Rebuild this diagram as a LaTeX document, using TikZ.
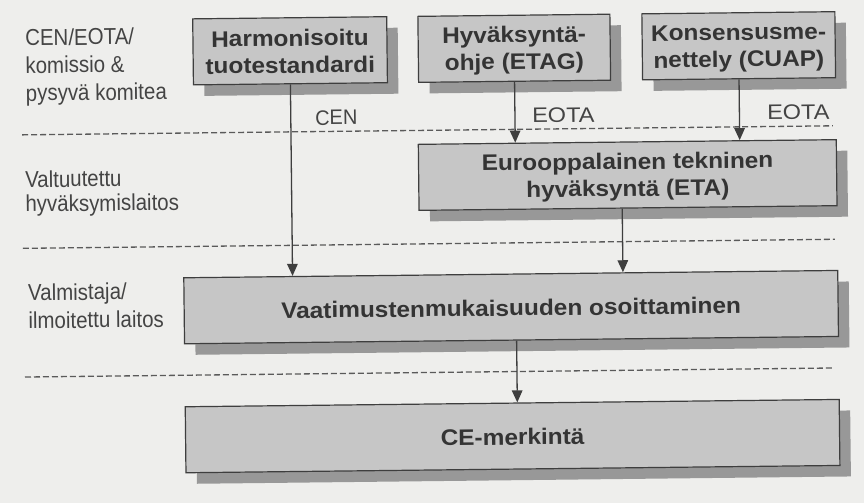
\documentclass[tikz,border=0pt]{standalone}
\usepackage{fontspec}
\usetikzlibrary{arrows.meta,shadows,calc}
\newfontfamily\lblfont[FakeStretch=0.89]{Liberation Sans}
\newfontfamily\cenfont[FakeStretch=0.95]{Liberation Sans}
\newfontfamily\eotafont[FakeStretch=1.12]{Liberation Sans}
\newfontfamily\boxfont[FakeStretch=1.085]{Liberation Sans}
\definecolor{bg}{RGB}{238,238,236}
\definecolor{boxfill}{RGB}{198,198,198}
\definecolor{shadowc}{RGB}{152,152,152}
\definecolor{edge}{RGB}{62,62,62}
\definecolor{txt}{RGB}{52,52,52}
\definecolor{lbl}{RGB}{68,68,68}
\definecolor{dashc}{RGB}{90,90,90}
\newcommand\bxs{\rule[-2.6pt]{0pt}{22.9pt}}
\begin{document}
\begin{tikzpicture}[x=1pt,y=-1pt,
  stepbox/.style={draw=edge, line width=1.2pt, fill=boxfill, inner sep=0pt,
    align=center, text=txt, minimum height=66pt,
    font=\boxfont\bfseries\fontsize{22.5}{27}\selectfont,
    drop shadow={shadow xshift=11pt, shadow yshift=-11pt, opacity=1, fill=shadowc, draw=none}},
  arr/.style={draw=edge, line width=1.3pt, -{Triangle[length=12pt,width=10.5pt]}},
  dashline/.style={draw=dashc, line width=1.3pt, dash pattern=on 6pt off 3pt},
  sidelbl/.style={anchor=base west, inner sep=0pt, align=left, text=lbl},
  flowlbl/.style={anchor=base west, inner sep=0pt, text=lbl}]
\useasboundingbox (0,0) rectangle (864,503);
\fill[bg] (0,0) rectangle (864,503);
\begin{scope}[rotate around={0.64:(432,251)}, transform shape]
  % dashed separators
  \coordinate (d1l) at (23.5,130.3);  \coordinate (d1r) at (834.4,130.3);
  \coordinate (d2l) at (23,243.8);    \coordinate (d2r) at (835,243.8);
  \coordinate (d3l) at (23.6,372.5);  \coordinate (d3r) at (833.7,372.5);
  \draw[dashline] (d1l) -- (d1r);
  \draw[dashline] (d2l) -- (d2r);
  \draw[dashline] (d3l) -- (d3r);
  % left labels (anchored at the baseline of the last line)
  \node[sidelbl, font=\lblfont\fontsize{23}{27.7}\selectfont] (l1) at (27.4,96.5) {CEN/EOTA/\\komissio \&\\pysyvä komitea};
  \node[sidelbl, font=\lblfont\fontsize{23}{24.4}\selectfont] (l2) at (25.8,207.3) {Valtuutettu\\hyväksymislaitos};
  \node[sidelbl, font=\lblfont\fontsize{23}{28}\selectfont] (l3) at (27.5,324.1) {Valmistaja/\\ilmoitettu laitos};
  % boxes
  \node[stepbox, minimum width=194pt] (b1) at (292.3,49.2) {\bxs Harmonisoitu\\\bxs tuotestandardi};
  \node[stepbox, minimum width=192pt] (b2) at (516.5,49.2) {\bxs Hyväksyntä-\\\bxs ohje (ETAG)};
  \node[stepbox, minimum width=193pt] (b3) at (741,49.2) {\bxs Konsensusme-\\\bxs nettely (CUAP)};
  \node[stepbox, minimum width=418pt] (b4) at (628.5,177.2) {\bxs Eurooppalainen tekninen\\\bxs hyväksyntä (ETA)};
  \node[stepbox, minimum width=654pt] (b5) at (510.5,308) {\bxs Vaatimustenmukaisuuden osoittaminen};
  \node[stepbox, minimum width=654pt] (b6) at (510.5,437) {\bxs CE-merkintä};
  % connector labels
  \node[flowlbl, font=\cenfont\fontsize{21}{25}\selectfont] (cen) at (316.5,123.7) {CEN};
  \node[flowlbl, font=\eotafont\fontsize{21}{25}\selectfont] (eota1) at (533.5,123.7) {EOTA};
  \node[flowlbl, font=\eotafont\fontsize{21}{25}\selectfont] (eota2) at (768.5,123.7) {EOTA};
  % connectors
  \draw[arr] (b1.south) -- ($(b5.north)!(b1.south)!(b5.north east)$);
  \draw[arr] (b2.south) -- ($(b4.north)!(b2.south)!(b4.north east)$);
  \draw[arr] (b3.south) -- ($(b4.north)!(b3.south)!(b4.north east)$);
  \coordinate (a45) at ($(b4.south)!5.7pt!(b4.south west)$);
  \draw[arr] (a45) -- ($(b5.north)!(a45)!(b5.north east)$);
  \coordinate (a56) at ($(b5.south)!5.2pt!(b5.south east)$);
  \draw[arr] (a56) -- ($(b6.north)!(a56)!(b6.north east)$);
\end{scope}
\end{tikzpicture}
\end{document}
